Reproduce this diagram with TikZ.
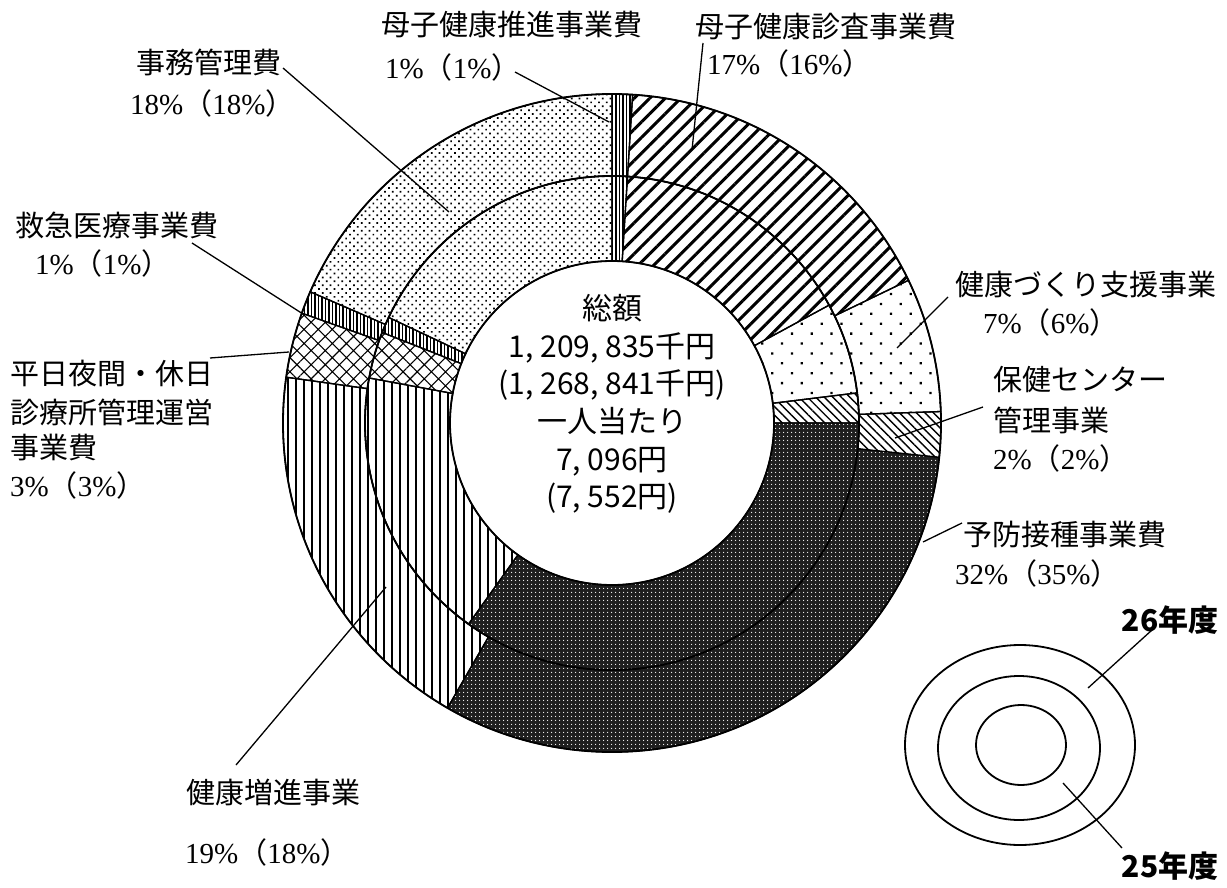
\documentclass[tikz,border=0pt]{standalone}
\usepackage{fontspec}
\setmainfont{Liberation Serif}
\newfontfamily\jp{Noto Sans CJK JP}
\usetikzlibrary{patterns.meta}
\newcommand\pct[2]{{\rmfamily #1\%}{\jp （}{\rmfamily #2\%}{\jp ）}}
% #1 style, #2 phi1, #3 phi2 (clockwise from top), #4 inner r, #5 outer r
\newcommand\ringpart[5]{%
  \path[#1] ({#2-90}:#5) arc[start angle={#2-90}, end angle={#3-90}, radius=#5]
    -- ({#3-90}:#4) arc[start angle={#3-90}, end angle={#2-90}, radius=#4] -- cycle;}
\tikzset{
  lab/.style={font=\jp\fontsize{29}{36}\selectfont, inner sep=0pt, anchor=west},
  ctr/.style={font=\jp\fontsize{30}{37.6}\selectfont, inner sep=0pt, align=center},
  leg/.style={font=\jp\bfseries\fontsize{30}{36}\selectfont, inner sep=0pt},
  leader/.style={line width=1.3pt},
  edge/.style={draw, line width=1.3pt},
  pSuishin/.style={edge, pattern={Lines[angle=90,distance=3.5pt,line width=1.8pt]}},
  pShinsa/.style={edge, pattern={Lines[angle=45,distance=11pt,line width=3pt]}},
  pDukuri/.style={edge, pattern={Dots[angle=45,distance=14pt,radius=1.6pt]}},
  pHoken/.style={edge, pattern={Lines[angle=-45,distance=6pt,line width=1.4pt]}},
  pYobou/.style={edge, preaction={fill=black!88}, pattern={Dots[distance=4pt,radius=0.8pt]}, pattern color=white},
  pZoushin/.style={edge, pattern={Lines[angle=90,distance=8pt,line width=1.6pt]}},
  pHeijitsu/.style={edge, pattern={Hatch[angle=45,distance=10pt,line width=1.1pt]}},
  pKyukyu/.style={edge, pattern={Lines[angle=90,distance=3.5pt,line width=1.6pt]}},
  pJimu/.style={edge, pattern={Dots[angle=45,distance=5.5pt,radius=1.2pt]}},
  ring/.style={line width=1.8pt},
}
\begin{document}
\begin{tikzpicture}[x=1pt,y=-1pt]
\fill[white] (0,0) rectangle (1227,888);
\useasboundingbox (0,0) rectangle (1227,888);
\begin{scope}[shift={(612,423)}]
  % outer ring (26)
  \ringpart{pSuishin}{0}{3.6}{247}{329}
  \ringpart{pShinsa}{3.6}{64.3}{247}{329}
  \ringpart{pDukuri}{64.3}{88}{247}{329}
  \ringpart{pHoken}{88}{96}{247}{329}
  \ringpart{pYobou}{96}{210}{247}{329}
  \ringpart{pZoushin}{210}{278}{247}{329}
  \ringpart{pHeijitsu}{278}{289.5}{247}{329}
  \ringpart{pKyukyu}{289.5}{293.5}{247}{329}
  \ringpart{pJimu}{293.5}{360}{247}{329}
  % inner ring (25)
  \ringpart{pSuishin}{0}{3.6}{162}{247}
  \ringpart{pShinsa}{3.6}{61.5}{162}{247}
  \ringpart{pDukuri}{61.5}{83}{162}{247}
  \ringpart{pHoken}{83}{90}{162}{247}
  \ringpart{pYobou}{90}{215.5}{162}{247}
  \ringpart{pZoushin}{215.5}{280.5}{162}{247}
  \ringpart{pHeijitsu}{280.5}{291.5}{162}{247}
  \ringpart{pKyukyu}{291.5}{295.3}{162}{247}
  \ringpart{pJimu}{295.3}{360}{162}{247}
  \draw[ring] (0,0) circle[radius=329];
  \draw[ring] (0,0) circle[radius=247];
  \draw[ring] (0,0) circle[radius=162];
\end{scope}

% centre text
\node[ctr] (total) at (612,404) {総額\\1, 209, 835千円\\(1, 268, 841千円)\\一人当たり\\7, 096円\\(7, 552円)};

% labels
\node[lab] (suishin1) at (381,25) {母子健康推進事業費};
\node[lab] (suishin2) at (385,67) {\pct{1}{1}};
\node[lab] (shinsa1) at (695,27) {母子健康診査事業費};
\node[lab] (shinsa2) at (707,63) {\pct{17}{16}};
\node[lab] (jimu1) at (136,62) {事務管理費};
\node[lab] (jimu2) at (130,103) {\pct{18}{18}};
\node[lab] (kyu1) at (15,225) {救急医療事業費};
\node[lab] (kyu2) at (35,263) {\pct{1}{1}};
\node[lab] (hei1) at (10,373) {平日夜間・休日};
\node[lab] (hei2) at (10,412) {診療所管理運営};
\node[lab] (hei3) at (10,448) {事業費};
\node[lab] (hei4) at (10,485) {\pct{3}{3}};
\node[lab] (duk1) at (955,285) {健康づくり支援事業};
\node[lab] (duk2) at (983,322) {\pct{7}{6}};
\node[lab] (hok1) at (993,380) {保健センター};
\node[lab] (hok2) at (993,420) {管理事業};
\node[lab] (hok3) at (993,458) {\pct{2}{2}};
\node[lab] (yob1) at (963,535) {予防接種事業費};
\node[lab] (yob2) at (955,573) {\pct{32}{35}};
\node[lab] (zou1) at (186,793) {健康増進事業};
\node[lab] (zou2) at (185,852) {\pct{19}{18}};

% leader end points
\coordinate (suishinS) at (515,72);   \coordinate (suishinP) at (609,122);
\coordinate (shinsaS) at (703,43);    \coordinate (shinsaP) at (692,150);
\coordinate (jimuS) at (283,68);      \coordinate (jimuP) at (449,212);
\coordinate (kyuS) at (192,243);      \coordinate (kyuP) at (303,314);
\coordinate (heiS) at (210,358);      \coordinate (heiP) at (289,352);
\coordinate (dukS) at (948,297);      \coordinate (dukP) at (897,348);
\coordinate (hokS) at (983,407);      \coordinate (hokP) at (895,438);
\coordinate (yobS) at (962,523);      \coordinate (yobP) at (923,542);
\coordinate (zouS) at (236,765);      \coordinate (zouP) at (386,587);
\draw[leader] (suishinS) -- (suishinP);
\draw[leader] (shinsaS) -- (shinsaP);
\draw[leader] (jimuS) -- (jimuP);
\draw[leader] (kyuS) -- (kyuP);
\draw[leader] (heiS) -- (heiP);
\draw[leader] (dukS) -- (dukP);
\draw[leader] (hokS) -- (hokP);
\draw[leader] (yobS) -- (yobP);
\draw[leader] (zouS) -- (zouP);

% legend
\draw[ring] (1020,745) ellipse[x radius=115, y radius=100];
\draw[ring] (1019,748) ellipse[x radius=81, y radius=72];
\draw[ring] (1021,745) ellipse[x radius=45, y radius=40];
\node[leg] (y26) at (1170,620) {26年度};
\node[leg] (y25) at (1170,866) {25年度};
\coordinate (y26S) at (1152,630); \coordinate (y26P) at (1088,688);
\coordinate (y25S) at (1122,848); \coordinate (y25P) at (1063,783);
\draw[leader] (y26S) -- (y26P);
\draw[leader] (y25S) -- (y25P);
\end{tikzpicture}
\end{document}
